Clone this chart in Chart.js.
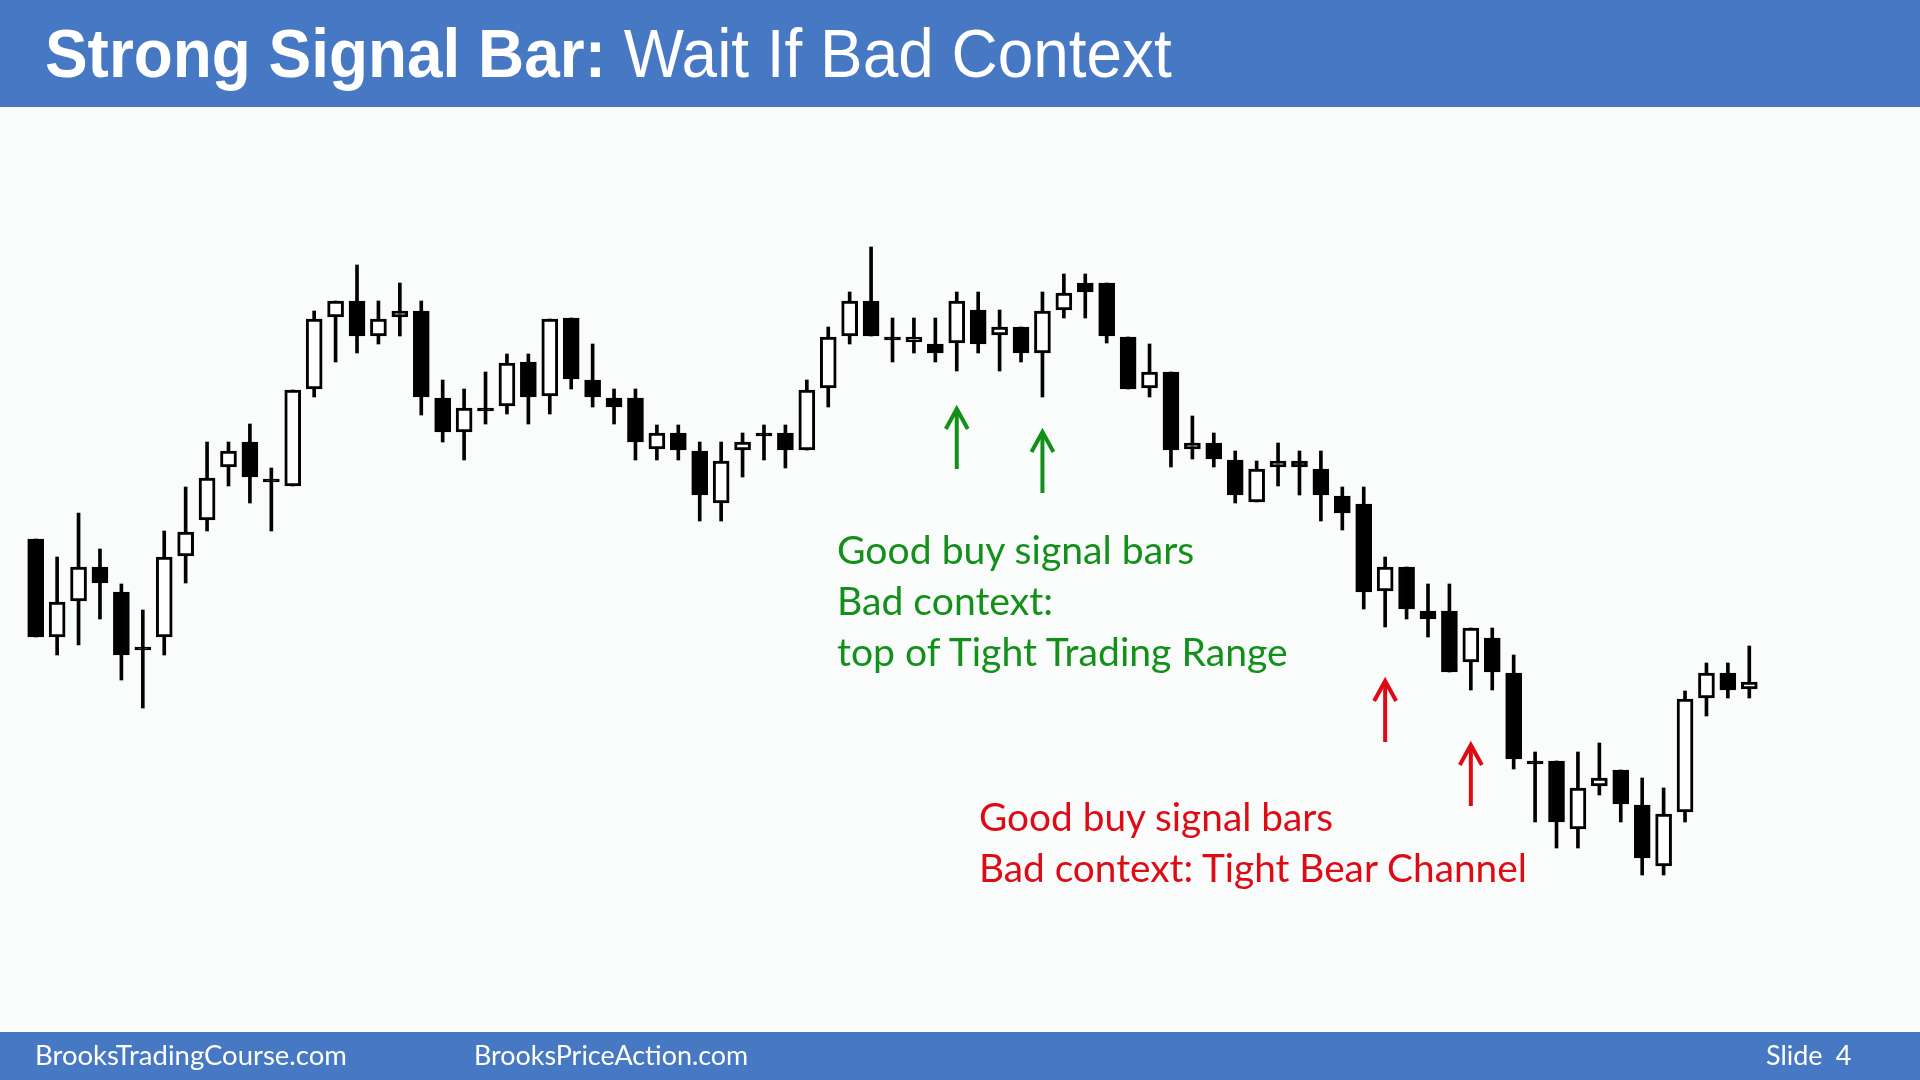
<!DOCTYPE html>
<html>
<head>
<meta charset="utf-8">
<script src="https://cdn.jsdelivr.net/npm/chart.js@4.4.1/dist/chart.umd.min.js"></script>
<style>
html, body { margin:0; padding:0; width:1920px; height:1080px; overflow:hidden; background:#fafcfc; }
#head { position:absolute; left:0; top:0; width:1920px; height:107px; background:#4678c4; }
#title { position:absolute; left:45px; top:19px; font-family:"Liberation Sans", Arial, sans-serif; font-size:69px; line-height:69px; color:#fff; white-space:nowrap; transform-origin:0 0; }
#foot { position:absolute; left:0; top:1032px; width:1920px; height:48px; background:#4678c4; }
.ft { position:absolute; top:-1px; height:48px; line-height:48px; font-family:Lato, "Open Sans", sans-serif; font-size:26px; color:#fff; white-space:nowrap; transform-origin:0 0; }
#wrap { position:absolute; left:0; top:107px; width:1920px; height:925px; }
.note { position:absolute; font-family:Lato, "Open Sans", sans-serif; font-size:38px; line-height:51px; white-space:nowrap; transform-origin:0 0; }
</style>
</head>
<body>
<div id="head"><div id="title" data-w="1127"><b>Strong Signal Bar:</b> Wait If Bad Context</div></div>
<div id="wrap"><canvas id="chart" width="1920" height="925"></canvas></div>
<div class="note" style="left:837px;top:524px;color:#12901a;" data-w="451">Good buy signal bars<br>Bad context:<br>top of Tight Trading Range</div>
<div class="note" style="left:979px;top:791px;color:#de0b15;" data-w="548">Good buy signal bars<br>Bad context: Tight Bear Channel</div>
<div id="foot">
  <div class="ft" style="left:35px" data-w="312">BrooksTradingCourse.com</div>
  <div class="ft" style="left:474px" data-w="274">BrooksPriceAction.com</div>
  <div class="ft" style="left:1766px;word-spacing:6px" data-w="85">Slide 4</div>
</div>
<script>
// bar prices (arbitrary units)
var opens  = [461,363,399,433,408,353,363,444,480,533,558,521,514,611,683,699,664,683,689,602,
              568,592,594,638,604,682,620,602,602,551,567,549,497,550,567,567,550,612,664,699,
              663,658,656,657,690,665,673,647,690,717,717,663,612,628,551,557,540,498,533,539,
              531,504,496,409,433,389,389,338,362,327,239,239,171,214,230,195,134,188,302,327,311];
var highs  = [461,443,487,451,416,390,469,513,558,558,576,532,610,689,699,735,699,717,699,620,
              611,628,646,646,681,682,656,611,611,575,575,558,558,567,575,575,620,673,708,753,
              682,682,682,708,708,690,673,708,726,726,717,663,656,628,584,567,549,539,557,549,
              549,513,513,443,433,416,416,372,372,345,248,239,248,257,230,222,212,309,337,337,354];
var lows   = [363,345,355,381,320,292,345,417,469,514,497,469,514,603,638,647,656,664,585,558,
              540,576,586,576,586,611,593,576,540,540,540,479,479,523,540,532,550,593,656,664,
              638,647,638,629,647,629,638,603,682,682,657,611,603,533,541,533,497,498,514,505,
              479,470,391,373,381,363,328,310,310,231,178,152,152,205,178,125,125,178,284,302,302];
var closes = [363,398,433,417,345,353,443,468,522,549,523,521,610,681,699,664,681,689,603,568,
              592,592,637,603,681,621,603,593,558,567,550,505,539,558,567,550,610,663,699,664,
              663,663,647,699,656,673,647,689,707,708,664,611,628,550,557,541,505,531,539,533,
              505,487,408,433,391,381,328,372,328,241,239,178,212,222,196,142,186,301,327,310,318];

// arrows under the signal bars (bar number, tip and tail price)
var arrowBars   = [44, 48, 64, 68];
var arrowTips   = [591, 568, 319, 255];
var arrowTails  = [531, 507, 258, 194];
var arrowColors = ['#12901a', '#12901a', '#de0b15', '#de0b15'];

var labels = [];
var bodies = [];
var wicks = [];
var fills = [];
for (var i = 0; i < opens.length; i++) {
    labels.push(String(i + 1));
    bodies.push([opens[i], closes[i]]);
    wicks.push([lows[i], highs[i]]);
    fills.push(closes[i] > opens[i] ? '#ffffff' : '#000000');
}

var arrowPlugin = {
    id: 'arrows',
    afterDatasetsDraw: function(chart) {
        var ctx = chart.ctx;
        var xs = chart.scales.x, ys = chart.scales.y;
        ctx.save();
        ctx.lineWidth = 4;
        ctx.lineCap = 'butt';
        ctx.lineJoin = 'miter';
        for (var k = 0; k < arrowBars.length; k++) {
            var x = xs.getPixelForValue(arrowBars[k] - 1);
            var yTip = ys.getPixelForValue(arrowTips[k]);
            var yTail = ys.getPixelForValue(arrowTails[k]);
            ctx.strokeStyle = arrowColors[k];
            ctx.beginPath();
            ctx.moveTo(x, yTail);
            ctx.lineTo(x, yTip + 2);
            ctx.stroke();
            ctx.beginPath();
            ctx.moveTo(x - 11, yTip + 20);
            ctx.lineTo(x, yTip);
            ctx.lineTo(x + 11, yTip + 20);
            ctx.stroke();
        }
        ctx.restore();
    }
};

var ctx = document.getElementById('chart');
var chart = new Chart(ctx, {
    type: 'bar',
    data: {
        labels: labels,
        datasets: [{
            label: 'body',
            data: bodies,
            backgroundColor: fills,
            borderColor: '#000000',
            borderWidth: 3,
            borderSkipped: false,
            barThickness: 16,
            minBarLength: 3,
            grouped: false,
            order: 1
        }, {
            label: 'wick',
            data: wicks,
            backgroundColor: '#000000',
            borderWidth: 0,
            barThickness: 3,
            grouped: false,
            order: 2
        }]
    },
    options: {
        responsive: false,
        animation: false,
        devicePixelRatio: 1,
        layout: { padding: { left: 25, right: 160, top: 0, bottom: 0 } },
        plugins: { legend: { display: false }, tooltip: { enabled: false } },
        scales: {
            x: { display: false, offset: true },
            y: { display: false, min: -32, max: 893 }
        }
    },
    plugins: [arrowPlugin]
});

// squeeze the slide texts to the widths seen in the picture
function fitTexts() {
    document.querySelectorAll('[data-w]').forEach(function(el) {
        var w = el.offsetWidth;
        el.style.transform = 'scaleX(' + (el.dataset.w / w) + ')';
    });
}
if (document.fonts && document.fonts.ready) { document.fonts.ready.then(fitTexts); } else { fitTexts(); }
</script>
</body>
</html>
